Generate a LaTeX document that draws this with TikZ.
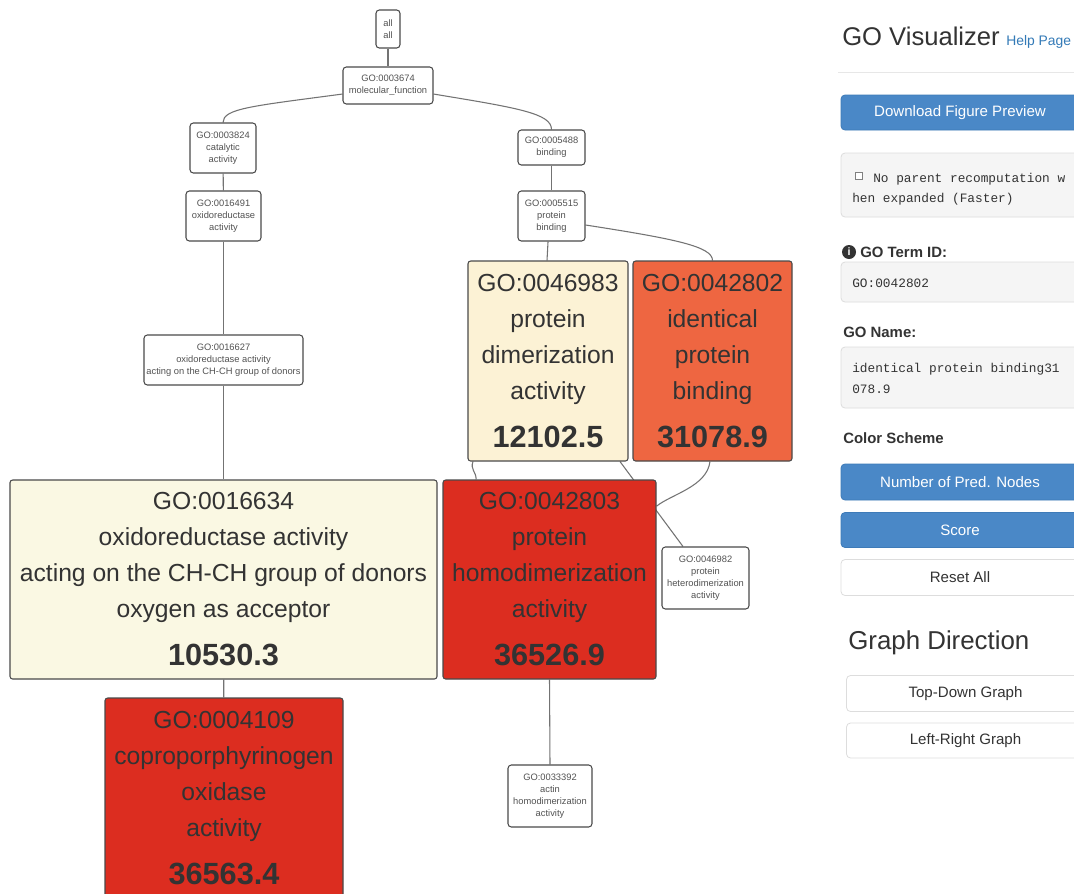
\documentclass[tikz,border=0pt]{standalone}
\usepackage{fontspec}
\setmainfont{Liberation Sans}
\setmonofont{Liberation Mono}
\pgfdeclarelayer{bg}
\pgfsetlayers{bg,main}
\definecolor{txt}{HTML}{333333}
\definecolor{edgecol}{HTML}{737373}
\definecolor{nodeborder}{HTML}{4A4A4A}
\definecolor{cream}{HTML}{FCF2D5}
\definecolor{paleyellow}{HTML}{FAF8E3}
\definecolor{orangered}{HTML}{EE6641}
\definecolor{deepred}{HTML}{DC2D20}
\definecolor{btnblue}{HTML}{4A88C7}
\definecolor{btnborder}{HTML}{3E7BB8}
\definecolor{helpblue}{HTML}{337AB7}
\definecolor{wellfill}{HTML}{F5F5F5}
\definecolor{wellborder}{HTML}{DDDDDD}
\tikzset{
  smallbox/.style={draw=nodeborder, fill=white, rounded corners=2.5pt, line width=0.8pt,
    inner sep=0pt, align=center, text=txt!85, font=\fontsize{7}{9}\selectfont},
  bigbox/.style={draw=nodeborder, rounded corners=2pt, line width=0.8pt,
    inner sep=0pt, align=center, text=txt, font=\fontsize{18.5}{27}\selectfont},
  edge/.style={draw=edgecol, line width=0.8pt},
  bluebtn/.style={draw=btnborder, fill=btnblue, rounded corners=3pt, line width=0.6pt,
    inner sep=0pt, text=white, font=\fontsize{11.3}{13}\selectfont},
  whitebtn/.style={draw=wellborder, fill=white, rounded corners=3pt, line width=0.6pt,
    inner sep=0pt, text=txt, font=\fontsize{11.3}{13}\selectfont},
  well/.style={draw=wellborder, fill=wellfill, rounded corners=3pt, line width=0.6pt},
  plain/.style={inner sep=0pt, text=txt},
  mono/.style={inner sep=0pt, text=txt, font=\ttfamily\fontsize{9.6}{12}\selectfont, anchor=base west},
  label/.style={inner sep=0pt, text=txt, font=\bfseries\fontsize{11.2}{13}\selectfont, anchor=base west},
}
\newcommand{\bignum}[1]{{\fontsize{23}{27}\selectfont\bfseries #1}}
\begin{document}
\begin{tikzpicture}[x=0.75pt,y=-0.75pt]
\useasboundingbox (0,0) rectangle (1074,893);

% ---------- graph nodes ----------
\node[smallbox, minimum width=18pt, minimum height=28.5pt] (all) at (388,29) {all\\all};
\node[smallbox, minimum width=67.5pt, minimum height=27.75pt] (mf) at (388,85.5) {GO:0003674\\molecular\_function};
\node[smallbox, minimum width=49.5pt, minimum height=37.5pt] (cat) at (223,148) {GO:0003824\\catalytic\\activity};
\node[smallbox, minimum width=50.25pt, minimum height=26.25pt] (bind) at (551.5,147.5) {GO:0005488\\binding};
\node[smallbox, minimum width=56.25pt, minimum height=37.5pt] (ox) at (223.5,216) {GO:0016491\\oxidoreductase\\activity};
\node[smallbox, minimum width=50.25pt, minimum height=37.5pt] (pb) at (551.5,216) {GO:0005515\\protein\\binding};
\node[smallbox, minimum width=119.25pt, minimum height=37.5pt] (n16627) at (223.5,360) {GO:0016627\\oxidoreductase activity\\acting on the CH-CH group of donors};

\node[bigbox, fill=cream, minimum width=120pt, minimum height=150pt] (n46983) at (548,361)
  {GO:0046983\\protein\\dimerization\\activity\\[9pt]\bignum{12102.5}};
\node[bigbox, fill=orangered, minimum width=119.25pt, minimum height=150pt] (n42802) at (712.5,361)
  {GO:0042802\\identical\\protein\\binding\\[9pt]\bignum{31078.9}};
\node[bigbox, fill=paleyellow, minimum width=320.25pt, minimum height=149.25pt] (n16634) at (223.5,579.5)
  {GO:0016634\\oxidoreductase activity\\acting on the CH-CH group of donors\\oxygen as acceptor\\[9pt]\bignum{10530.3}};
\node[bigbox, fill=deepred, minimum width=159.75pt, minimum height=149.25pt] (n42803) at (549.5,579.5)
  {GO:0042803\\protein\\homodimerization\\activity\\[9pt]\bignum{36526.9}};
\node[smallbox, minimum width=65.25pt, minimum height=46.5pt] (n46982) at (705.5,578) {GO:0046982\\protein\\heterodimerization\\activity};
\node[bigbox, fill=deepred, minimum width=178.5pt, minimum height=150pt] (n4109) at (224,798)
  {GO:0004109\\coproporphyrinogen\\oxidase\\activity\\[9pt]\bignum{36563.4}};
\node[smallbox, minimum width=63pt, minimum height=46.5pt] (n33392) at (550,796) {GO:0033392\\actin\\homodimerization\\activity};

% ---------- side panel ----------
\node[plain, anchor=base west, font=\fontsize{19.2}{22}\selectfont] (title) at (842,45) {GO Visualizer};
\node[plain, anchor=base west, text=helpblue, font=\fontsize{10.4}{12}\selectfont] (help) at (1006,45) {Help Page};
\draw[draw=wellborder!70, line width=0.75pt] (838,72) -- (1074,72);

\node[bluebtn, minimum width=178.5pt, minimum height=26.25pt] (dl) at (960,112.5) {Download Figure Preview};

\draw[well] (841,153) rectangle (1080,217);
\draw[draw=gray, line width=0.5pt, fill=white] (855,172) rectangle (862,179);
\node[mono] (cb1) at (873,182) {No parent recomputation w};
\node[mono] (cb2) at (852,202) {hen expanded (Faster)};

\fill[txt] (849,252) circle (7);
\node[inner sep=0pt, text=white, font=\bfseries\fontsize{8}{9}\selectfont] (info) at (849,252) {i};
\node[label] (termlbl) at (860,257) {GO Term ID:};
\draw[well] (841,262) rectangle (1080,302);
\node[mono] (termid) at (852,287) {GO:0042802};

\node[label] (namelbl) at (843,337) {GO Name:};
\draw[well] (841,347) rectangle (1080,408);
\node[mono] (name1) at (852,372) {identical protein binding31};
\node[mono] (name2) at (852,393) {078.9};

\node[label] (cslbl) at (843,443) {Color Scheme};
\node[bluebtn, minimum width=178.5pt, minimum height=27pt] (b1) at (960,482) {Number of Pred. Nodes};
\node[bluebtn, minimum width=178.5pt, minimum height=26.25pt] (b2) at (960,530) {Score};
\node[whitebtn, minimum width=178.5pt, minimum height=27pt] (b3) at (960,577.5) {Reset All};

\node[plain, anchor=base west, font=\fontsize{19.4}{22}\selectfont] (gd) at (848,649) {Graph Direction};
\node[whitebtn, minimum width=178.5pt, minimum height=27pt] (b4) at (965.5,693.5) {Top-Down Graph};
\node[whitebtn, minimum width=178.5pt, minimum height=26.25pt] (b5) at (965.5,740.5) {Left-Right Graph};

% ---------- connectors (behind nodes) ----------
\begin{pgfonlayer}{bg}
\fill[white] (0,0) rectangle (1074,893);
\draw[edge] (all) -- (mf);
\draw[edge] ([yshift=-6.4pt]mf.west) .. controls +(-90,12) and +(0,-14) .. (cat.north);
\draw[edge] ([yshift=-6.4pt]mf.east) .. controls +(85,14) and +(0,-16) .. (bind.north);
\draw[edge] (cat) -- (ox);
\draw[edge] (ox) -- (n16627);
\draw[edge] (n16627) -- (n16634);
\draw[edge] (n16634) -- (n4109);
\draw[edge] (bind) -- (pb);
\draw[edge] ([xshift=-2.6pt]pb.south) -- ([xshift=-0.75pt]n46983.north);
\draw[edge] ([yshift=-6.75pt]pb.east) .. controls +(90,14) and +(0,-14) .. (n42802.north);
\draw[edge] ([xshift=-56.25pt]n46983.south) .. controls +(-3,8) and +(0,-8) .. ([xshift=-55pt]n42803.north);
\draw[edge] ([xshift=54pt]n46983.south) -- ([xshift=-16.9pt]n46982.north);
\draw[edge] ([xshift=-1.9pt]n42802.south) .. controls +(-3,25) and +(15,-12) .. ([yshift=55pt]n42803.east);
\draw[edge] (n42803.south) -- (n33392.north);
\end{pgfonlayer}
\end{tikzpicture}
\end{document}
